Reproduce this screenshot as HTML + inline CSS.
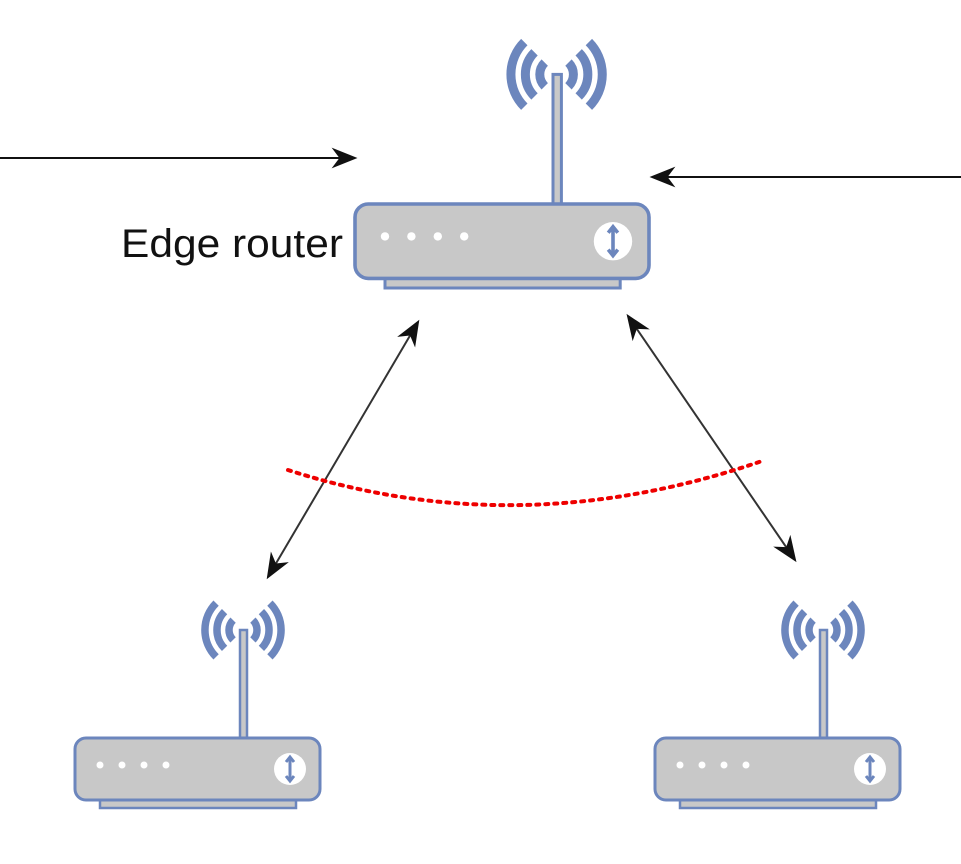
<!DOCTYPE html>
<html><head><meta charset="utf-8"><style>body{margin:0;background:#fff}svg{display:block}</style></head>
<body>
<svg width="961" height="864" viewBox="0 0 961 864" xmlns="http://www.w3.org/2000/svg">
<defs>
<marker id="ah2" viewBox="0 0 10 10" refX="9" refY="5" markerWidth="26" markerHeight="26" orient="auto-start-reverse" markerUnits="userSpaceOnUse">
<path d="M0,1 L10,5 L0,9 L3,5 z" fill="#111"/></marker>
<g id="router">
<g fill="none" stroke="#6c86bd" stroke-width="7.5">
<path d="M158.1,-117.9 A14,14 0 0 0 158.1,-98.1"/>
<path d="M149.6,-126.4 A26,26 0 0 0 149.6,-89.6"/>
<path d="M141.1,-134.9 A38,38 0 0 0 141.1,-81.1"/>
<path d="M177.9,-117.9 A14,14 0 0 1 177.9,-98.1"/>
<path d="M186.4,-126.4 A26,26 0 0 1 186.4,-89.6"/>
<path d="M194.9,-134.9 A38,38 0 0 1 194.9,-81.1"/>
</g>
<rect x="165" y="-108" width="7" height="110" fill="#c8c8c8" stroke="#6c86bd" stroke-width="2.5"/>
<rect x="25" y="62" width="196" height="8" fill="#c8c8c8" stroke="#6c86bd" stroke-width="2.5"/>
<rect x="0" y="0" width="245" height="62" rx="11" fill="#c8c8c8" stroke="#6c86bd" stroke-width="3"/>
<g fill="#fff"><circle cx="25" cy="27" r="3.5"/><circle cx="47" cy="27" r="3.5"/><circle cx="69" cy="27" r="3.5"/><circle cx="91" cy="27" r="3.5"/>
<circle cx="215" cy="31" r="16"/></g>
<path d="M215,20 L215,42 M211,24 L215,19 L219,24 M211,38 L215,43 L219,38" stroke="#6c86bd" stroke-width="3" fill="none"/>
</g>
</defs>
<use href="#router" transform="translate(355,204) scale(1.2)"/>
<use href="#router" transform="translate(75,738)"/>
<use href="#router" transform="translate(655,738)"/>
<line x1="0" y1="158" x2="355" y2="158" stroke="#111" stroke-width="2" marker-end="url(#ah2)"/>
<line x1="961" y1="177" x2="652" y2="177" stroke="#111" stroke-width="2" marker-end="url(#ah2)"/>
<line x1="418" y1="322" x2="268" y2="577" stroke="#333" stroke-width="2" marker-start="url(#ah2)" marker-end="url(#ah2)"/>
<line x1="628" y1="316" x2="795" y2="560" stroke="#333" stroke-width="2" marker-start="url(#ah2)" marker-end="url(#ah2)"/>
<path d="M288,470 Q520,545 765,460" fill="none" stroke="#e00" stroke-width="4" stroke-dasharray="3,6" stroke-linecap="round"/>
<text x="343" y="257" text-anchor="end" font-family="Liberation Sans, sans-serif" font-size="40" fill="#111" textLength="222" lengthAdjust="spacingAndGlyphs">Edge router</text>
</svg>
</body></html>
